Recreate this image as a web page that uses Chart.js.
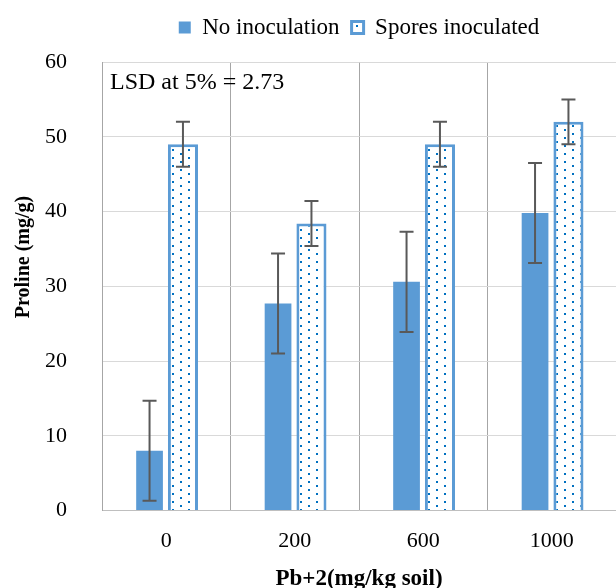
<!DOCTYPE html>
<html>
<head>
<meta charset="utf-8">
<script src="https://cdn.jsdelivr.net/npm/chart.js@4"></script>
<style>
  html, body { margin: 0; padding: 0; background: #fff; }
  #wrap { width: 616px; height: 588px; }
</style>
</head>
<body>
<div id="wrap"><canvas id="prolineChart"></canvas></div>
<script>
const categories = ['0', '200', '600', '1000'];
const noInoculation = [8.0, 27.7, 30.6, 39.8];
const noInoculationErr = [6.7, 6.7, 6.7, 6.7];
const sporesInoculated = [49.0, 38.4, 49.0, 52.0];
const sporesInoculatedErr = [3.0, 3.0, 3.0, 3.0];
const yTicks = [0, 10, 20, 30, 40, 50, 60];

const serif = '"Liberation Serif", "Times New Roman", serif';

// dotted fill for the inoculated bars
function dotPattern() {
    const c = document.createElement('canvas');
    c.width = 16; c.height = 8;
    const g = c.getContext('2d');
    g.fillStyle = '#fff';
    g.fillRect(0, 0, 16, 8);
    g.fillStyle = '#0070c0';
    g.fillRect(4, 1, 2, 2);
    g.fillRect(12, 5, 2, 2);
    return g.createPattern(c, 'repeat');
}
const dots = dotPattern();

const errorBars = {
    id: 'errorBars',
    afterDatasetsDraw(chart) {
        const ctx = chart.ctx;
        const y = chart.scales.y;
        ctx.save();
        ctx.strokeStyle = '#595959';
        ctx.lineWidth = 2;
        chart.data.datasets.forEach((ds, i) => {
            const meta = chart.getDatasetMeta(i);
            meta.data.forEach((bar, j) => {
                const v = ds.data[j], e = ds.errors[j];
                const top = y.getPixelForValue(v + e);
                const bot = y.getPixelForValue(v - e);
                ctx.beginPath();
                ctx.moveTo(bar.x, top); ctx.lineTo(bar.x, bot);
                ctx.moveTo(bar.x - 7, top); ctx.lineTo(bar.x + 7, top);
                ctx.moveTo(bar.x - 7, bot); ctx.lineTo(bar.x + 7, bot);
                ctx.stroke();
            });
        });
        ctx.restore();
    }
};

// a bit more room under the legend
const legendGap = {
    id: 'legendGap',
    afterInit(chart) {
        const lg = chart.legend;
        const fit = lg.fit;
        lg.fit = function () { fit.call(this); this.height += 13; };
    }
};

const extraText = {
    id: 'extraText',
    afterDraw(chart) {
        const ctx = chart.ctx;
        const a = chart.chartArea;
        ctx.save();
        ctx.fillStyle = '#000';
        ctx.font = '24px ' + serif;
        ctx.textBaseline = 'middle';
        ctx.textAlign = 'left';
        ctx.fillText('LSD at 5% = 2.73', a.left + 8, a.top + 21);
        ctx.font = 'bold 20px ' + serif;
        ctx.textAlign = 'center';
        ctx.translate(24, 257);
        ctx.rotate(-Math.PI / 2);
        ctx.fillText('Proline (mg/g)', 0, 0);
        ctx.restore();
    }
};

new Chart(document.getElementById('prolineChart'), {
    type: 'bar',
    data: {
        labels: categories,
        datasets: [
            { label: 'No inoculation', data: noInoculation, errors: noInoculationErr,
              backgroundColor: '#5b9bd5', borderWidth: 0, barPercentage: 0.8 },
            { label: 'Spores inoculated', data: sporesInoculated, errors: sporesInoculatedErr,
              backgroundColor: dots, borderColor: '#5b9bd5', borderWidth: 3, barPercentage: 0.9 }
        ]
    },
    options: {
        responsive: true,
        maintainAspectRatio: false,
        animation: false,
        datasets: { bar: { categoryPercentage: 0.52 } },
        layout: { padding: { left: 10, right: 0, top: 4, bottom: 0 } },
        plugins: {
            legend: {
                position: 'top',
                fullSize: false,
                labels: { boxWidth: 12, boxHeight: 12, padding: 12, color: '#000',
                          font: { family: serif, size: 23 } }
            },
            tooltip: { enabled: false }
        },
        scales: {
            x: {
                offset: true,
                grid: { offset: true, color: '#a6a6a6', drawTicks: false },
                border: { color: '#bfbfbf' },
                ticks: { color: '#000', padding: 17, font: { family: serif, size: 22 } },
                title: { display: true, text: 'Pb+2(mg/kg soil)', color: '#000', padding: { top: 0, bottom: 0 },
                         font: { family: serif, size: 23, weight: 'bold', lineHeight: 0.74 } }
            },
            y: {
                min: 0, max: 60,
                afterBuildTicks(scale) { scale.ticks = yTicks.map(v => ({ value: v })); },
                grid: { color: '#d9d9d9', drawTicks: false },
                border: { color: '#a6a6a6' },
                ticks: { color: '#000', padding: 35, font: { family: serif, size: 22 } }
            }
        }
    },
    plugins: [errorBars, legendGap, extraText]
});
</script>
</body>
</html>
